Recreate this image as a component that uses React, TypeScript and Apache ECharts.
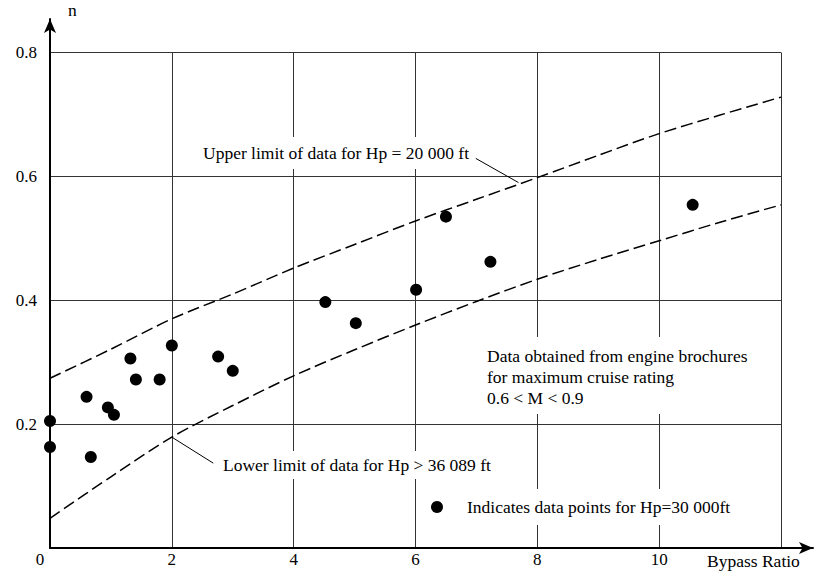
import React, { useEffect, useRef } from "react";
import * as echarts from "echarts";

// Data points (Hp = 30 000 ft)
const bypassRatio = [0, 0, 0.6, 0.67, 0.95, 1.05, 1.32, 1.41, 1.8, 2.0, 2.76, 3.0, 4.52, 5.02, 6.01, 6.5, 7.23, 10.55];
const efficiency = [0.205, 0.163, 0.244, 0.147, 0.227, 0.215, 0.306, 0.272, 0.272, 0.327, 0.309, 0.286, 0.397, 0.363, 0.417, 0.535, 0.462, 0.554];

// Limit curves
const curveX = [0, 1, 2, 3, 4, 5, 6, 7, 8, 9, 10, 11, 12];
const upperLimit = [0.274, 0.321, 0.37, 0.41, 0.452, 0.49, 0.528, 0.563, 0.598, 0.634, 0.669, 0.699, 0.728];
const lowerLimit = [0.048, 0.115, 0.179, 0.23, 0.278, 0.32, 0.36, 0.398, 0.434, 0.466, 0.496, 0.526, 0.554];

// Leader lines (data coords)
const upperLeader = [[6.99, 0.629], [7.69, 0.59]];
const lowerLeader = [[2.0, 0.179], [2.68, 0.137]];

const xTicks = [0, 2, 4, 6, 8, 10];
const yTicks = [0.2, 0.4, 0.6, 0.8];

const FONT = "Liberation Serif";
const legendName = "Indicates data points for Hp=30 000ft";

export default function App() {
  const ref = useRef<HTMLDivElement>(null);
  useEffect(() => {
    if (!ref.current) return;
    const chart = echarts.init(ref.current, null, { renderer: "svg" });
    const splitStyle = { color: "#333", width: 1 };
    const curveStyle = { color: "#000", width: 1.5, type: [12, 5] };
    chart.setOption({
      animation: false,
      backgroundColor: "#fff",
      textStyle: { fontFamily: FONT },
      grid: [
        { left: 50, right: 40, top: 52.5, bottom: 23 },
        { left: 50, right: 8, top: 19, bottom: 23 },
      ],
      xAxis: [
        {
          gridIndex: 0,
          type: "value",
          min: 0,
          max: 12,
          interval: 2,
          axisLine: { show: false },
          axisTick: { show: false },
          splitLine: { show: true, lineStyle: splitStyle },
          axisLabel: {
            margin: 3,
            fontFamily: FONT,
            fontSize: 17,
            color: "#000",
            formatter: (v: number) => {
              if (!xTicks.includes(v)) return "";
              if (v === 0) return "{z|0}";
              return String(v);
            },
            rich: { z: { fontFamily: FONT, fontSize: 17, color: "#000", padding: [0, 20, 0, 0] } },
          },
        },
        {
          gridIndex: 1,
          type: "value",
          min: 0,
          max: 1,
          axisLine: { show: true, symbol: ["none", "arrow"], symbolSize: [9, 14], lineStyle: { color: "#000", width: 2 } },
          axisTick: { show: false },
          axisLabel: { show: false },
          splitLine: { show: false },
        },
      ],
      yAxis: [
        {
          gridIndex: 0,
          type: "value",
          min: 0,
          max: 0.8,
          interval: 0.2,
          axisLine: { show: false },
          axisTick: { show: false },
          splitLine: { show: true, lineStyle: splitStyle },
          axisLabel: {
            margin: 13,
            fontFamily: FONT,
            fontSize: 17,
            color: "#000",
            formatter: (v: number) => {
              const t = yTicks.find((y) => Math.abs(y - v) < 1e-6);
              return t === undefined ? "" : t.toFixed(1);
            },
          },
        },
        {
          gridIndex: 1,
          type: "value",
          min: 0,
          max: 1,
          axisLine: { show: true, symbol: ["none", "arrow"], symbolSize: [9, 14], lineStyle: { color: "#000", width: 2 } },
          axisTick: { show: false },
          axisLabel: { show: false },
          splitLine: { show: false },
        },
      ],
      legend: {
        data: [legendName],
        left: 431,
        top: 489,
        padding: 0,
        icon: "circle",
        itemWidth: 42,
        itemHeight: 12,
        selectedMode: false,
        textStyle: {
          fontFamily: FONT,
          fontSize: 17.5,
          color: "#000",
          backgroundColor: "#fff",
          padding: [9, 4, 9, 4],
        },
      },
      series: [
        {
          name: "Upper limit",
          type: "line",
          xAxisIndex: 0,
          yAxisIndex: 0,
          data: curveX.map((x, i) => [x, upperLimit[i]]),
          smooth: 0.3,
          showSymbol: false,
          silent: true,
          lineStyle: curveStyle,
          markLine: {
            silent: true,
            symbol: ["none", "none"],
            label: { show: false },
            lineStyle: { color: "#000", width: 1, type: "solid" },
            data: [[{ coord: upperLeader[0] }, { coord: upperLeader[1] }]],
          },
        },
        {
          name: "Lower limit",
          type: "line",
          xAxisIndex: 0,
          yAxisIndex: 0,
          data: curveX.map((x, i) => [x, lowerLimit[i]]),
          smooth: 0.3,
          showSymbol: false,
          silent: true,
          lineStyle: curveStyle,
          markLine: {
            silent: true,
            symbol: ["none", "none"],
            label: { show: false },
            lineStyle: { color: "#000", width: 1, type: "solid" },
            data: [[{ coord: lowerLeader[0] }, { coord: lowerLeader[1] }]],
          },
        },
        {
          name: legendName,
          type: "scatter",
          xAxisIndex: 0,
          yAxisIndex: 0,
          symbol: "circle",
          symbolSize: 12,
          itemStyle: { color: "#000", opacity: 1 },
          data: bypassRatio.map((x, i) => [x, efficiency[i]]),
          z: 5,
        },
      ],
      graphic: [
        {
          type: "text",
          z: 100,
          x: 68,
          y: 10,
          style: { text: "n", fontFamily: FONT, fontSize: 17.5, fill: "#000", align: "left", verticalAlign: "middle" },
        },
        {
          type: "text",
          z: 100,
          x: 707,
          y: 561,
          style: { text: "Bypass Ratio", fontFamily: FONT, fontSize: 17.5, fill: "#000", align: "left", verticalAlign: "middle" },
        },
        {
          type: "text",
          z: 100,
          x: 197,
          y: 153,
          style: {
            text: "Upper limit of data for Hp = 20 000 ft",
            fontFamily: FONT,
            fontSize: 17.5,
            fill: "#000",
            align: "left",
            verticalAlign: "middle",
            backgroundColor: "#fff",
            padding: [7, 6, 7, 6],
          },
        },
        {
          type: "text",
          z: 100,
          x: 217,
          y: 465,
          style: {
            text: "Lower limit of data for Hp > 36 089 ft",
            fontFamily: FONT,
            fontSize: 17.5,
            fill: "#000",
            align: "left",
            verticalAlign: "middle",
            backgroundColor: "#fff",
            padding: [5, 6, 5, 6],
          },
        },
        {
          type: "text",
          z: 100,
          x: 481,
          y: 337,
          style: {
            text: "Data obtained from engine brochures\nfor maximum cruise rating\n0.6 < M < 0.9",
            fontFamily: FONT,
            fontSize: 17.5,
            lineHeight: 21,
            fill: "#000",
            align: "left",
            verticalAlign: "top",
            backgroundColor: "#fff",
            padding: [8, 6, 6, 6],
          },
        },
      ],
    });
    return () => chart.dispose();
  }, []);
  return (
    <div
      ref={ref}
      style={{ position: "fixed", left: 0, top: 0, width: 821, height: 571, background: "#fff" }}
    />
  );
}
